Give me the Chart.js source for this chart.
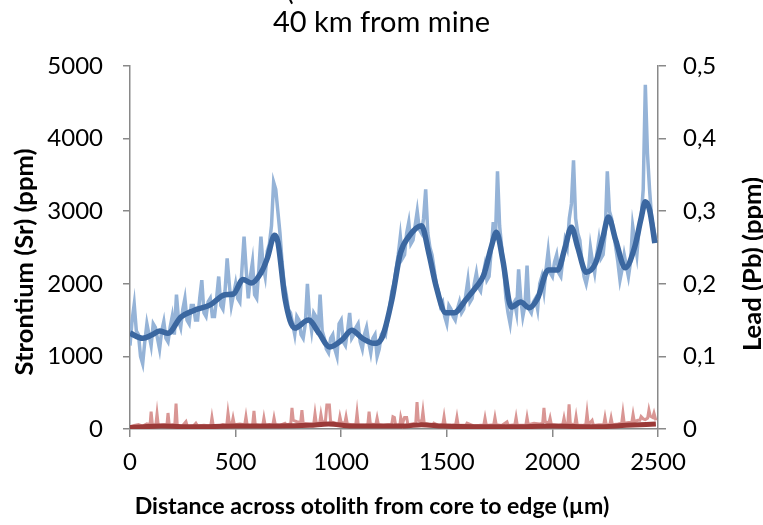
<!DOCTYPE html>
<html>
<head>
<meta charset="utf-8">
<script src="https://cdn.jsdelivr.net/npm/chart.js@4.4.1/dist/chart.umd.min.js"></script>
<style>
  html, body { margin: 0; padding: 0; background: #fff; }
  #wrap { width: 763px; height: 525px; position: relative; }
</style>
</head>
<body>
<div id="wrap"><canvas id="chart"></canvas></div>
<script>
// distance across otolith (µm) for the raw Sr trace
const srRawDist = [
  0,10,20,30,40,50,60,70,80,90,
  100,110,120,130,140,150,160,170,180,190,
  200,210,220,230,240,250,260,270,280,290,
  300,310,320,330,340,350,360,370,380,390,
  400,410,420,430,440,450,460,470,480,490,
  500,510,520,530,540,550,560,570,580,590,
  600,610,620,630,640,650,660,670,680,690,
  700,710,720,730,740,750,760,770,780,790,
  800,810,820,830,840,850,860,870,880,890,
  900,910,920,930,940,950,960,970,980,990,
  1000,1010,1020,1030,1040,1050,1060,1070,1080,1090,
  1100,1110,1120,1130,1140,1150,1160,1170,1180,1190,
  1200,1210,1220,1230,1240,1250,1260,1270,1280,1290,
  1300,1310,1320,1330,1340,1350,1360,1370,1380,1390,
  1400,1410,1420,1430,1440,1450,1460,1470,1480,1490,
  1500,1510,1520,1530,1540,1550,1560,1570,1580,1590,
  1600,1610,1620,1630,1640,1650,1660,1670,1680,1690,
  1700,1710,1720,1730,1740,1750,1760,1770,1780,1790,
  1800,1810,1820,1830,1840,1850,1860,1870,1880,1890,
  1900,1910,1920,1930,1940,1950,1960,1970,1980,1990,
  2000,2010,2020,2030,2040,2050,2060,2070,2080,2090,
  2100,2110,2120,2130,2140,2150,2160,2170,2180,2190,
  2200,2210,2220,2230,2240,2250,2260,2270,2280,2290,
  2300,2310,2320,2330,2340,2350,2360,2370,2380,2390,
  2400,2410,2420,2430,2440,2450,2460,2470,2480,2490
];
// Sr raw (ppm)
const srRaw = [
  1150,1500,1720,1350,1300,1000,900,1200,1450,1300,
  1150,1450,1400,1250,1100,1350,1480,1250,1200,1400,
  1550,1300,1850,1500,1400,1650,1800,1500,1450,1700,
  1700,1500,1500,1800,2050,1600,1550,1750,1800,1550,
  1550,1800,2100,1700,1650,1900,2350,2000,1700,1850,
  2000,1800,1750,2200,2650,2200,1800,2100,2300,1850,
  1800,2200,2650,2250,2100,2450,2550,2800,3400,3300,
  3000,2700,2300,2000,1850,1650,1600,1450,1300,1550,
  1500,1300,1250,1450,2000,1550,1350,1600,1550,1300,
  1850,1350,1250,1100,1050,1250,1300,1100,1000,1450,
  1500,1200,1150,1350,1600,1250,1300,1400,1450,1200,
  1100,1300,1400,1200,1050,1250,1300,1000,1100,1300,
  1350,1300,1500,1700,1900,2000,2200,2400,2650,2350,
  2400,2700,2850,2550,2600,2800,3000,2750,2700,2900,
  3300,2700,2500,2400,2200,2000,1900,1700,1750,1550,
  1450,1700,1650,1550,1500,1650,1750,1600,1650,1850,
  2050,1750,1800,2000,2150,1950,1900,2100,2250,2050,
  2100,2450,2850,2600,3550,2800,2500,2200,1800,1600,
  1450,1700,1750,1600,2200,1800,1550,1700,2250,1650,
  1600,1750,1800,1650,2000,2100,1900,2200,2450,2150,
  2100,2300,2400,2150,2100,2350,2600,2500,2900,3100,
  3700,2900,2700,2600,2300,2100,2000,2150,2500,2300,
  2150,2400,2600,2350,2400,2700,3550,3000,2900,2700,
  2500,2300,2050,2200,2400,2250,2100,2300,2800,2600,
  2400,2750,2900,3300,4740,3800,3300,2900,2750,2600
];

// Sr smoothed (ppm)
const srSmoothDist = [0,60,100,140,180,240,300,380,450,490,535,575,620,650,685,700,735,780,845,895,
  945,1005,1050,1100,1155,1195,1240,1280,1320,1380,1415,1450,1495,1535,1590,1640,1675,1710,1735,1765,
  1805,1850,1890,1930,1980,2025,2060,2090,2120,2160,2205,2240,2265,2300,2345,2390,2420,2440,2460,2485];
const srSmooth = [1320,1250,1290,1350,1320,1540,1630,1710,1850,1860,2060,2010,2150,2350,2670,2580,1780,1390,1500,1320,
  1130,1230,1360,1250,1180,1270,1780,2420,2650,2800,2420,1960,1600,1600,1780,1960,2120,2500,2710,2330,
  1680,1750,1670,1800,2190,2190,2500,2780,2500,2160,2290,2650,2920,2600,2220,2510,2900,3130,3020,2560];

// Pb raw (ppm)
const pbRawDist = [
  0,20,40,60,80,95,100,106,122,128,
  134,160,175,180,186,205,212,218,224,245,
  265,272,300,312,320,350,382,388,394,420,
  440,458,464,470,482,488,494,520,543,549,
  555,580,587,593,610,628,634,640,660,676,
  682,688,710,734,740,761,767,773,790,808,
  814,820,850,870,876,882,898,904,910,925,
  932,944,950,975,988,994,1000,1017,1023,1029,
  1050,1069,1075,1081,1110,1126,1132,1138,1164,1170,
  1176,1200,1220,1239,1245,1252,1258,1278,1282,1290,
  1300,1310,1316,1335,1353,1359,1365,1381,1387,1393,
  1420,1433,1439,1460,1481,1487,1493,1520,1542,1548,
  1554,1590,1596,1630,1660,1675,1681,1687,1722,1728,
  1734,1760,1785,1791,1822,1828,1834,1874,1880,1886,
  1913,1940,1954,1960,1966,1983,1989,1995,2030,2049,
  2055,2061,2073,2079,2085,2106,2112,2118,2140,2158,
  2164,2170,2188,2194,2220,2243,2249,2255,2272,2278,
  2284,2310,2328,2334,2340,2360,2376,2382,2388,2405,
  2414,2420,2430,2440,2451,2457,2463,2475,2481,2490
];
const pbRaw = [
  .003,.005,.006,.004,.007,.006,.024,.006,.005,.021,
  .005,.006,.006,.022,.005,.006,.005,.035,.004,.003,
  .010,.003,.004,.008,.004,.005,.004,.016,.005,.004,
  .006,.005,.022,.009,.006,.015,.006,.007,.006,.017,
  .005,.004,.025,.006,.005,.004,.015,.005,.006,.005,
  .015,.006,.005,.008,.006,.007,.029,.012,.010,.009,
  .026,.008,.007,.007,.021,.008,.008,.020,.010,.010,
  .033,.033,.010,.008,.007,.017,.009,.008,.017,.007,
  .006,.006,.022,.005,.005,.006,.024,.007,.006,.015,
  .006,.005,.006,.006,.017,.016,.005,.006,.016,.007,
  .016,.016,.006,.007,.008,.037,.012,.010,.024,.008,
  .006,.005,.008,.005,.006,.017,.005,.005,.006,.016,
  .005,.005,.008,.004,.005,.005,.015,.005,.006,.016,
  .006,.005,.010,.005,.006,.016,.005,.005,.016,.006,
  .008,.007,.008,.029,.010,.008,.015,.006,.005,.006,
  .015,.006,.007,.034,.007,.006,.017,.005,.005,.006,
  .022,.006,.012,.005,.006,.006,.016,.006,.006,.015,
  .006,.007,.008,.022,.008,.009,.009,.020,.010,.012,
  .012,.017,.014,.013,.015,.026,.018,.016,.022,.012
];

// Pb smoothed (ppm)
const pbSmoothDist = [0,150,300,500,700,850,940,1050,1200,1300,1380,1480,1650,1800,2000,2200,2350,2490];
const pbSmooth = [0.002,0.004,0.003,0.004,0.004,0.005,0.007,0.004,0.004,0.004,0.006,0.004,0.003,0.003,0.004,0.003,0.005,0.007];

// axes
const xTicks = [0, 500, 1000, 1500, 2000, 2500];
const srTicks = [0, 1000, 2000, 3000, 4000, 5000];
const pbTicks = [0, 0.1, 0.2, 0.3, 0.4, 0.5];

const chartTitle = '40 km from mine';
const xTitle = 'Distance across otolith from core to edge (µm)';
const srTitle = 'Strontium (Sr) (ppm)';
const pbTitle = 'Lead (Pb) (ppm)';

const FONT = 'Lato, "Open Sans", sans-serif';
const AXIS = '#898989';

function pts(xs, ys) {
  return xs.map((x, i) => ({ x: x, y: ys[i] }));
}

function fitSize(ctx, text, target) {
  ctx.font = 'bold 20px ' + FONT;
  return 20 * target / ctx.measureText(text).width;
}

// axis titles sit off-centre in the original, so draw them by hand
const axisTitles = {
  id: 'axisTitles',
  afterDraw(chart) {
    const ctx = chart.ctx;
    ctx.save();
    ctx.fillStyle = '#000';
    ctx.textAlign = 'center';
    ctx.textBaseline = 'middle';

    const s = fitSize(ctx, srTitle, 227);
    ctx.font = 'bold ' + s + 'px ' + FONT;
    ctx.save();
    ctx.translate(25, 262);
    ctx.rotate(-Math.PI / 2);
    ctx.fillText(srTitle, 0, 0);
    ctx.restore();

    ctx.save();
    ctx.translate(753, 264);
    ctx.rotate(-Math.PI / 2);
    ctx.fillText(pbTitle, 0, 0);
    ctx.restore();

    ctx.font = 'bold ' + fitSize(ctx, xTitle, 475) + 'px ' + FONT;
    ctx.fillText(xTitle, 372, 507);

    // bottom of the cut-off first title line
    ctx.font = '28px ' + FONT;
    ctx.textBaseline = 'alphabetic';
    ctx.fillText('(', 290, 0);
    ctx.restore();
  }
};

const tickFont = { family: FONT, size: 24 };

new Chart(document.getElementById('chart'), {
  type: 'line',
  data: {
    datasets: [
      {
        label: 'Sr smoothed',
        data: pts(srSmoothDist, srSmooth),
        yAxisID: 'ySr',
        borderColor: '#3b67a0',
        borderWidth: 5.5,
        cubicInterpolationMode: 'monotone',
        pointRadius: 0,
        order: 1
      },
      {
        label: 'Pb smoothed',
        data: pts(pbSmoothDist, pbSmooth),
        yAxisID: 'yPb',
        borderColor: '#9b3a38',
        borderWidth: 5,
        cubicInterpolationMode: 'monotone',
        pointRadius: 0,
        order: 2
      },
      {
        label: 'Sr',
        data: pts(srRawDist, srRaw),
        yAxisID: 'ySr',
        borderColor: '#95b3d7',
        borderWidth: 3.5,
        tension: 0,
        pointRadius: 0,
        order: 3
      },
      {
        label: 'Pb',
        data: pts(pbRawDist, pbRaw),
        yAxisID: 'yPb',
        borderColor: '#d99694',
        borderWidth: 3,
        tension: 0,
        pointRadius: 0,
        order: 4
      }
    ]
  },
  options: {
    responsive: true,
    maintainAspectRatio: false,
    animation: false,
    layout: { padding: 0 },
    plugins: {
      legend: { display: false },
      tooltip: { enabled: false },
      title: {
        display: true,
        text: chartTitle,
        color: '#000',
        font: { family: FONT, size: 29, weight: 'normal', lineHeight: 1.2 },
        padding: { top: 5, bottom: 26.2 }
      }
    },
    scales: {
      x: {
        type: 'linear',
        min: 0,
        max: 2500,
        afterBuildTicks: (s) => { s.ticks = xTicks.map(v => ({ value: v })); },
        afterFit: (s) => { s.height = 96; },
        border: { color: AXIS, width: 1.5 },
        grid: { drawOnChartArea: false, color: AXIS, lineWidth: 1.5, tickLength: 8 },
        ticks: { color: '#000', font: tickFont, padding: 11, maxRotation: 0, callback: v => String(v) }
      },
      ySr: {
        type: 'linear',
        position: 'left',
        min: 0,
        max: 5000,
        afterBuildTicks: (s) => { s.ticks = srTicks.map(v => ({ value: v })); },
        afterFit: (s) => { s.width = 130; },
        border: { color: AXIS, width: 1.5 },
        grid: { drawOnChartArea: false, color: AXIS, lineWidth: 1.5, tickLength: 7 },
        ticks: { color: '#000', font: tickFont, padding: 20, callback: v => String(v) }
      },
      yPb: {
        type: 'linear',
        position: 'right',
        min: 0,
        max: 0.5,
        afterBuildTicks: (s) => { s.ticks = pbTicks.map(v => ({ value: v })); },
        afterFit: (s) => { s.width = 105; },
        border: { color: AXIS, width: 1.5 },
        grid: { drawOnChartArea: false, color: AXIS, lineWidth: 1.5, tickLength: 8 },
        ticks: {
          color: '#000', font: tickFont, padding: 17,
          callback: v => v === 0 ? '0' : v.toFixed(1).replace('.', ',')
        }
      }
    }
  },
  plugins: [axisTitles]
});
</script>
</body>
</html>
